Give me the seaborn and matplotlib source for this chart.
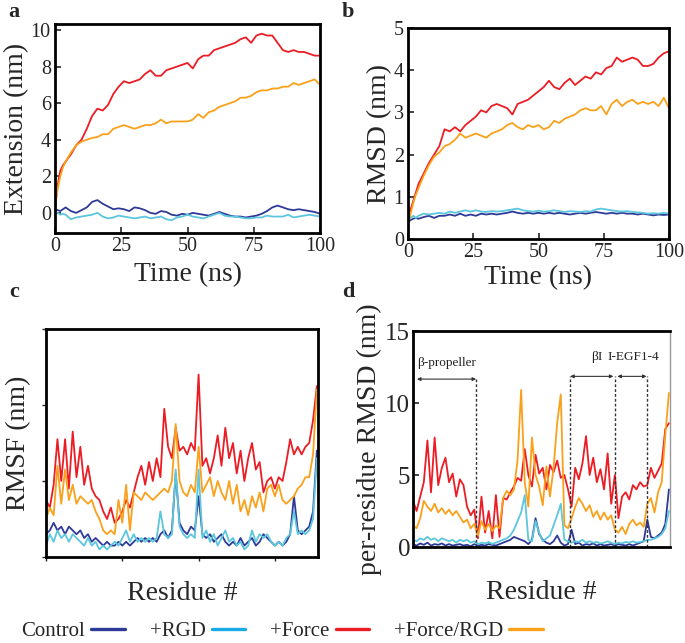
import numpy as np
import pandas as pd
import matplotlib
matplotlib.use("Agg")
import matplotlib.pyplot as plt
from matplotlib.lines import Line2D
import seaborn as sns

sns.set_theme(style="white")
plt.rcParams['font.family'] = ['Liberation Serif', 'DejaVu Serif']
plt.rcParams['mathtext.fontset'] = 'stix'

conditions = ["Control", "+RGD", "+Force", "+Force/RGD"]
palette = {"Control": "#2e3a97", "+RGD": "#5cc6dd", "+Force": "#ec1c24", "+Force/RGD": "#f9a11b"}
legend_colors = {"Control": "#2e3a97", "+RGD": "#19aae8", "+Force": "#ec1c24", "+Force/RGD": "#f9a11b"}

# ---------------- time grid (ns) ----------------
time_ns = [0, 1, 2, 3, 4] + list(range(6, 101, 2))

# panel a: extension (nm)
ext_control = [0.2,0.15,0.1,0.2,0.3, 0.1,0.0,0.15,0.3,0.6,0.7,0.5,0.35,0.2,0.25,
               0.2,0.1,0.3,0.25,0.15,0.0,-0.05,0.1,0.05,-0.1, -0.15,-0.05,-0.1,0.0,-0.05,-0.1,-0.15,-0.05,0.05,-0.05,
               -0.15,-0.2,-0.2,-0.25,-0.2,-0.15,-0.05,0.1,0.3,0.4, 0.3,0.2,0.15,0.2,0.15,0.1,0.05,-0.05]
ext_rgd = [0.05,0.0,-0.1,-0.05,-0.1, -0.35,-0.25,-0.2,-0.15,-0.1,0.0,-0.2,-0.3,-0.25,-0.15,
           -0.2,-0.25,-0.3,-0.25,-0.2,-0.3,-0.25,-0.2,-0.35,-0.4, -0.25,-0.2,-0.1,-0.2,-0.25,-0.3,-0.2,-0.1,0.0,-0.15,
           -0.2,-0.2,-0.25,-0.3,-0.3,-0.25,-0.25,-0.15,-0.2,-0.2, -0.2,-0.1,-0.25,-0.2,-0.15,-0.1,-0.15,-0.2]
ext_force = [0.3,1.5,2.3,2.6,2.8, 3.2,3.7,4.0,4.6,5.3,5.7,5.6,5.9,6.5,6.9,
             7.2,7.1,7.2,7.3,7.6,7.8,7.5,7.5,7.8,7.9, 8.0,8.1,8.2,7.9,8.4,8.6,8.6,8.9,9.0,9.1,
             9.2,9.3,9.5,9.6,9.3,9.7,9.8,9.7,9.7,9.3, 8.9,8.8,8.9,8.8,8.8,8.7,8.6,8.6]
ext_force_rgd = [0.3,1.3,2.0,2.5,2.8, 3.3,3.7,3.9,4.0,4.1,4.15,4.3,4.3,4.6,4.7,
                 4.8,4.7,4.6,4.7,4.8,4.8,4.9,5.1,4.9,5.0, 5.0,5.0,5.0,5.1,5.4,5.2,5.5,5.6,5.8,5.9,
                 6.0,6.1,6.3,6.3,6.4,6.6,6.7,6.7,6.8,6.8, 6.9,6.9,7.1,7.0,7.1,7.2,7.3,7.0]

# panel b: RMSD (nm)
rmsd_control = [0.4,0.45,0.48,0.5,0.48, 0.52,0.55,0.5,0.55,0.55,0.58,0.55,0.6,0.55,0.58,
                0.55,0.6,0.58,0.6,0.58,0.6,0.62,0.65,0.62,0.6, 0.62,0.6,0.62,0.6,0.62,0.6,0.62,0.6,0.58,0.6,
                0.62,0.6,0.62,0.64,0.62,0.6,0.62,0.6,0.62,0.6, 0.6,0.58,0.6,0.58,0.56,0.58,0.57,0.58]
rmsd_rgd = [0.45,0.5,0.55,0.5,0.55, 0.6,0.58,0.6,0.62,0.6,0.65,0.62,0.65,0.68,0.65,
            0.68,0.65,0.64,0.66,0.65,0.66,0.68,0.7,0.72,0.68, 0.66,0.65,0.67,0.65,0.66,0.68,0.66,0.64,0.66,0.65,
            0.64,0.66,0.65,0.7,0.72,0.7,0.68,0.66,0.65,0.66, 0.64,0.63,0.62,0.6,0.61,0.6,0.62,0.6]
rmsd_force = [0.35,0.7,0.9,1.1,1.3, 1.55,1.8,2.0,2.2,2.6,2.55,2.65,2.55,2.7,2.8,
              2.9,3.05,3.0,3.15,3.2,3.15,3.1,2.95,3.2,3.25, 3.3,3.4,3.5,3.6,3.75,3.6,3.55,3.7,3.8,3.65,
              3.75,3.85,3.8,3.95,3.9,4.05,4.1,4.3,4.2,4.25, 4.3,4.25,4.1,4.1,4.15,4.3,4.4,4.45]
rmsd_force_rgd = [0.35,0.6,0.85,1.05,1.2, 1.5,1.75,1.95,2.05,2.2,2.25,2.35,2.5,2.4,2.45,
                  2.5,2.45,2.4,2.5,2.55,2.6,2.7,2.75,2.65,2.6, 2.7,2.65,2.7,2.6,2.65,2.8,2.75,2.85,2.9,2.95,
                  3.05,3.1,3.05,3.05,3.15,2.95,3.2,3.3,3.15,3.25, 3.3,3.2,3.25,3.2,3.25,3.15,3.35,3.1]

# ---------------- residue grid ----------------
residue = list(range(0, 720, 10))

# panel c: RMSF
rmsf_control = [0.3,0.35,0.45,0.35,0.4,0.3,0.4,0.35,0.3,0.35,
                0.25,0.3,0.2,0.25,0.2,0.15,0.2,0.15,0.15,0.2,
                0.15,0.2,0.15,0.2,0.25,0.2,0.25,0.2,0.25,0.2,
                0.3,0.35,0.25,0.35,1.1,0.45,0.35,0.3,0.4,0.35,
                0.8,0.3,0.25,0.3,0.2,0.25,0.3,0.2,0.15,0.2,
                0.15,0.25,0.15,0.2,0.25,0.15,0.2,0.3,0.25,0.2,
                0.15,0.2,0.15,0.2,0.3,0.8,0.35,0.3,0.35,0.4,
                0.6,1.4]
rmsf_rgd = [0.15,0.3,0.2,0.35,0.25,0.3,0.2,0.3,0.25,0.2,
            0.15,0.25,0.15,0.2,0.1,0.15,0.1,0.15,0.2,0.15,
            0.25,0.35,0.2,0.3,0.2,0.25,0.2,0.25,0.2,0.25,
            0.6,0.3,0.25,0.3,1.15,0.4,0.3,0.25,0.3,0.25,
            1.15,0.25,0.35,0.2,0.3,0.15,0.25,0.35,0.2,0.25,
            0.15,0.2,0.1,0.15,0.35,0.2,0.3,0.25,0.3,0.2,
            0.15,0.2,0.15,0.25,0.3,0.6,0.3,0.35,0.3,0.35,
            0.5,1.3]
rmsf_force = [0.75,0.65,0.95,1.55,1.0,1.55,0.9,1.65,1.05,1.45,
              0.95,1.2,0.9,0.8,0.75,0.6,0.5,0.65,0.45,0.5,
              0.6,0.75,0.65,0.85,1.05,1.2,0.95,1.25,1.0,1.3,
              1.05,1.95,1.45,1.3,1.7,1.4,1.45,1.35,1.5,1.4,
              2.4,1.2,1.3,1.1,1.3,1.6,1.2,1.7,1.3,1.5,
              1.1,1.4,1.0,1.3,1.5,1.15,1.25,0.85,1.0,1.05,
              0.9,1.05,1.0,1.25,1.55,1.35,1.45,1.35,1.45,1.5,
              1.8,2.25]
rmsf_force_rgd = [0.5,0.65,0.55,1.2,0.7,1.15,0.75,0.95,0.7,0.8,
                  0.75,0.7,0.75,0.6,0.5,0.35,0.3,0.35,0.3,0.75,
                  0.45,0.95,0.35,0.85,0.8,0.75,0.85,0.8,0.75,0.8,
                  0.85,0.9,0.85,1.0,1.75,1.0,0.85,0.8,0.95,0.85,
                  1.45,0.85,0.95,1.05,0.8,1.0,0.85,0.75,1.0,0.7,
                  0.95,0.6,0.75,0.55,0.8,0.65,0.85,0.6,0.9,0.95,
                  0.8,0.95,0.75,0.7,0.75,0.8,0.9,0.95,1.05,1.05,
                  1.35,2.2]

# panel d: per-residue RMSD
prmsd_control = [0.2,0.1,0.25,0.15,0.3,0.1,0.2,0.15,0.25,0.1,
                 0.2,0.1,0.15,0.2,0.1,0.15,0.05,0.2,0.1,0.15,
                 0.1,0.2,0.15,0.1,0.2,0.3,0.4,0.5,0.7,0.6,
                 0.5,0.4,0.2,0.5,2.0,0.9,0.5,0.3,0.2,0.4,
                 0.8,0.3,0.1,0.2,1.2,0.2,0.3,0.1,0.2,0.15,
                 0.25,0.1,0.2,0.1,0.15,0.2,0.1,0.2,0.15,0.1,
                 0.2,0.1,0.2,0.3,0.4,1.9,0.7,0.6,0.8,1.0,
                 1.6,4.0]
prmsd_rgd = [0.5,0.4,0.6,0.5,0.7,0.5,0.6,0.4,0.6,0.5,
             0.4,0.5,0.3,0.5,0.4,0.5,0.3,0.4,0.2,0.3,
             0.25,0.35,0.2,0.3,0.4,0.5,0.6,0.8,1.2,1.8,
             2.4,3.6,0.5,0.4,1.8,1.0,0.4,0.6,0.8,1.5,
             2.2,3.0,0.5,0.4,0.3,0.4,0.35,0.5,0.3,0.4,
             0.3,0.35,0.25,0.3,0.4,0.3,0.2,0.3,0.25,0.35,
             0.3,0.4,0.3,0.35,0.4,0.5,0.5,0.6,0.7,0.9,
             1.3,2.5]
prmsd_force = [3.2,2.5,3.5,4.5,7.4,3.8,7.6,4.3,5.5,6.2,
               4.5,5.1,3.5,4.7,4.3,2.8,2.2,2.6,0.6,3.5,
               1.0,2.5,0.6,3.6,0.7,3.4,3.3,3.8,4.2,4.8,
               4.6,6.8,5.0,4.2,6.4,5.1,5.5,4.0,5.7,5.2,
               6.0,4.8,5.0,4.0,2.8,5.5,4.7,5.8,7.7,5.0,
               6.2,4.5,5.4,4.0,6.5,3.0,5.0,2.0,3.5,3.8,
               3.3,4.3,4.0,4.5,4.2,4.3,5.5,4.8,5.3,5.8,
               8.2,8.6]
prmsd_force_rgd = [1.5,1.3,2.0,3.2,2.8,2.5,3.0,2.4,2.7,2.3,
                   2.6,2.2,2.5,2.1,1.7,1.9,1.3,1.6,0.8,1.8,
                   1.2,1.6,1.1,1.5,1.3,3.4,3.9,3.6,4.0,6.0,
                   10.9,4.5,2.8,7.6,5.0,4.2,2.9,5.6,3.5,5.5,
                   8.6,10.6,1.5,1.3,2.0,2.8,3.4,3.0,2.5,2.9,
                   2.1,2.5,1.9,2.4,1.9,2.2,1.2,1.0,1.4,0.9,
                   1.6,1.9,1.5,1.7,1.4,3.0,3.4,2.4,3.8,4.5,
                   7.8,10.7]

# domain annotations (residue boundaries)
domain_names = ["β-propeller", "βI", "I-EGF1-4"]
domain_bounds = [(11, 175), (436, 556), (567, 648)]
boundary_lines = [175, 436, 561, 648]


def long_df(x, series):
    frames = []
    for cond, vals in zip(conditions, series):
        frames.append(pd.DataFrame({"x": x, "y": vals, "cond": cond}))
    return pd.concat(frames, ignore_index=True)


df_a = long_df(time_ns, [ext_control, ext_rgd, ext_force, ext_force_rgd])
df_b = long_df(time_ns, [rmsd_control, rmsd_rgd, rmsd_force, rmsd_force_rgd])
df_c = long_df(residue, [rmsf_control, rmsf_rgd, rmsf_force, rmsf_force_rgd])
df_d = long_df(residue, [prmsd_control, prmsd_rgd, prmsd_force, prmsd_force_rgd])

W, H = 685, 643
fig = plt.figure(figsize=(W / 100, H / 100), dpi=100)

def box(l, t, r, b):
    return [l / W, 1 - b / H, (r - l) / W, (b - t) / H]

ax_a = fig.add_axes(box(55, 24, 320, 233))
ax_b = fig.add_axes(box(408, 28, 669, 239))
ax_c = fig.add_axes(box(46, 329, 318, 557))
ax_d = fig.add_axes(box(413, 331, 670, 547))

for ax, df in [(ax_a, df_a), (ax_b, df_b), (ax_c, df_c), (ax_d, df_d)]:
    sns.lineplot(data=df, x="x", y="y", hue="cond", hue_order=conditions, palette=palette,
                 estimator=None, sort=False, legend=False, lw=1.3, ax=ax)
    ax.set_xlabel("")
    ax.set_ylabel("")
    for s in ax.spines.values():
        s.set_visible(True)
        s.set_color("black")
        s.set_linewidth(2.0)

LABEL_FS = 20
TICK_FS = 14.5

# panel a
ax_a.set_xlim(0, 100)
ax_a.set_ylim(-1.1, 10.33)
ax_a.set_xticks([0, 25, 50, 75, 100])
ax_a.set_yticks([0, 2, 4, 6, 8, 10])
ax_a.set_ylabel("Extension (nm)", fontsize=LABEL_FS, labelpad=1)
ax_a.set_xlabel("Time (ns)", fontsize=LABEL_FS, labelpad=4)

# panel b
ax_b.set_xlim(0, 100)
ax_b.set_ylim(0, 5)
ax_b.set_xticks([0, 25, 50, 75, 100])
ax_b.set_yticks([0, 1, 2, 3, 4, 5])
ax_b.set_ylabel("RMSD (nm)", fontsize=LABEL_FS, labelpad=1)
ax_b.set_xlabel("Time (ns)", fontsize=LABEL_FS, labelpad=2)

for ax in (ax_a, ax_b):
    ax.tick_params(axis="both", direction="in", length=4, width=1.2, labelsize=TICK_FS,
                   bottom=True, left=True, pad=3)

# panel c
ax_c.set_xlim(0, 713)
ax_c.set_ylim(0, 3)
ax_c.set_xticks([0, 200, 400, 600])
ax_c.set_yticks([0, 1, 2, 3])
ax_c.set_xticklabels([])
ax_c.set_yticklabels([])
ax_c.tick_params(axis="both", direction="out", length=3, width=1, bottom=True, left=True)
ax_c.set_ylabel("RMSF (nm)", fontsize=LABEL_FS, labelpad=4)
ax_c.set_xlabel("Residue #", fontsize=LABEL_FS, labelpad=11)

# panel d
ax_d.set_xlim(0, 713)
ax_d.set_ylim(0, 15)
ax_d.set_xticks([])
ax_d.set_yticks([0, 5, 10, 15])
ax_d.tick_params(axis="y", direction="in", length=4, width=1.2, labelsize=18, left=True, pad=2)
ax_d.spines["right"].set_color("#999999")
ax_d.spines["right"].set_linewidth(1.0)
ax_d.set_ylabel("per-residue RMSD (nm)", fontsize=LABEL_FS, labelpad=2)
ax_d.set_xlabel("Residue #", fontsize=LABEL_FS, labelpad=24)

for xb in boundary_lines:
    top = 11.66 if xb == 175 else 11.85
    ax_d.plot([xb, xb], [0, top], ls=(0, (2, 1.5)), color="#333333", lw=1.0)

arrow_y = [11.66, 11.85, 11.85]
label_pos = [(93, 12.35), (510, 12.75), (611, 12.75)]
for name, (x0, x1), ay, (lx, ly) in zip(domain_names, domain_bounds, arrow_y, label_pos):
    ax_d.annotate("", xy=(x0, ay), xytext=(x1, ay),
                  arrowprops=dict(arrowstyle="<|-|>", color="#333333", lw=0.8,
                                  mutation_scale=5, shrinkA=0, shrinkB=0))
    ax_d.text(lx, ly, name, fontsize=9.5, ha="center", va="bottom", color="#222222")

# panel letters
for lbl, (px, py) in zip("abcd", [(14, 12), (348, 12), (14, 292), (348, 292)]):
    fig.text(px / W, 1 - py / H, lbl, fontsize=16, fontweight="bold", ha="center", va="center")

# legend
handles = [Line2D([0], [0], color=legend_colors[c], lw=2.4) for c in conditions]
fig.legend(handles, conditions, loc="center", bbox_to_anchor=(282 / W, 1 - 631 / H),
           ncol=4, frameon=False, markerfirst=False, fontsize=15,
           handlelength=1.6, handletextpad=0.3, columnspacing=1.2)

fig.savefig("out.png", dpi=100)
